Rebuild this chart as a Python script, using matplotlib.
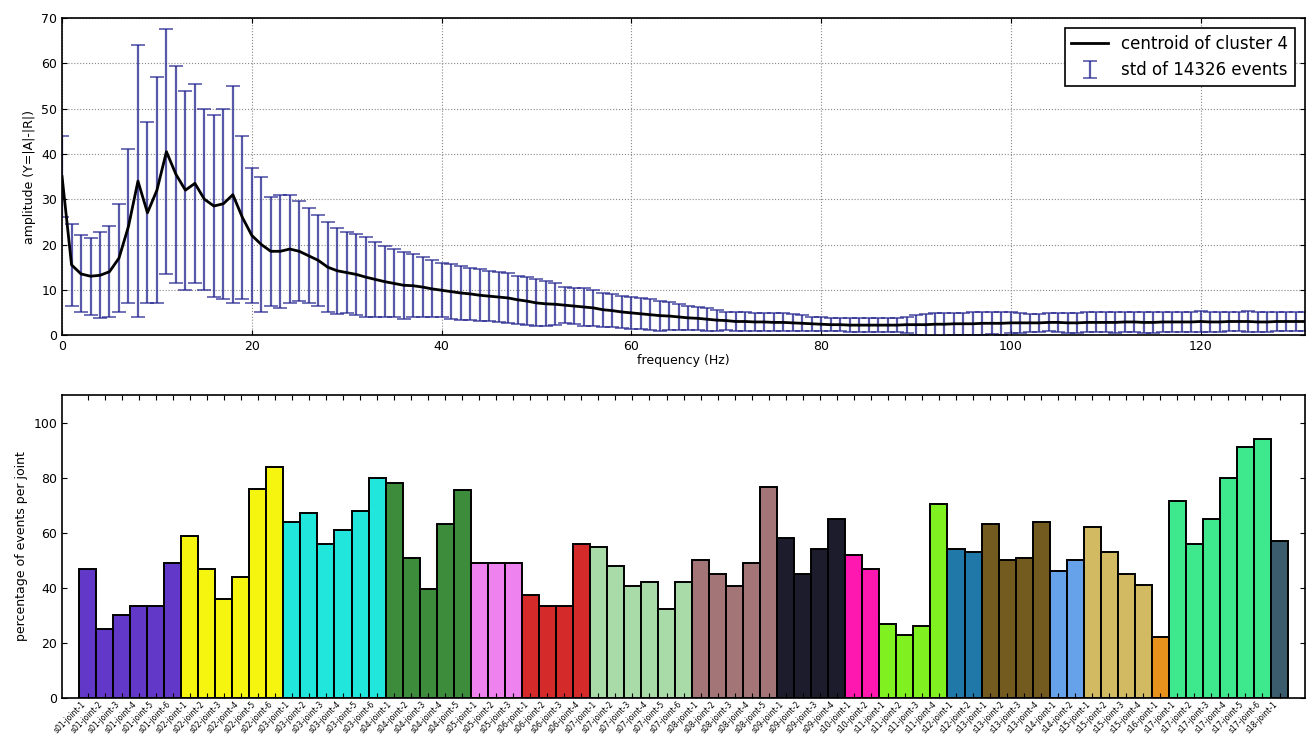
import matplotlib
matplotlib.use("Agg")
import matplotlib.pyplot as plt
import numpy as np

# ---- top panel data: centroid spectrum and std, one value per Hz ----
freq = np.arange(0, 132)
centroid = [
    35, 15.5, 13.5, 13, 13.2, 14, 17, 24, 34, 27,
    32, 40.5, 35.5, 32, 33.5, 30, 28.5, 29, 31, 26,
    22, 20, 18.5, 18.5, 19, 18.5, 17.5, 16.5, 15, 14.2,
    13.8, 13.4, 12.8, 12.3, 11.8, 11.4, 11, 10.9, 10.6, 10.2,
    9.9, 9.6, 9.3, 9.1, 8.8, 8.6, 8.4, 8.2, 7.8, 7.5,
    7.1, 6.9, 6.8, 6.6, 6.4, 6.2, 6.0, 5.6, 5.4, 5.1,
    4.9, 4.7, 4.5, 4.3, 4.2, 4.0, 3.8, 3.7, 3.5, 3.3,
    3.2, 3.0, 3.0, 2.9, 2.9, 2.8, 2.8, 2.7, 2.6, 2.5,
    2.4, 2.3, 2.3, 2.2, 2.2, 2.2, 2.2, 2.2, 2.2, 2.3,
    2.3, 2.3, 2.4, 2.4, 2.5, 2.5, 2.5, 2.6, 2.6, 2.6,
    2.7, 2.7, 2.7, 2.7, 2.8, 2.8, 2.7, 2.7, 2.8, 2.8,
    2.8, 2.8, 2.9, 2.9, 2.8, 2.8, 2.9, 2.9, 2.9, 2.9,
    3.0, 2.9, 2.9, 3.0, 3.0, 3.0, 2.9, 2.9, 3.0, 3.0, 3.0, 3.0,
]
spread = [
    9, 9, 8.5, 8.5, 9.5, 10, 12, 17, 30, 20,
    25, 27, 24, 22, 22, 20, 20, 21, 24, 18,
    15, 15, 12, 12.5, 12, 11, 10.5, 10, 10, 9.5,
    9, 9, 8.8, 8.2, 7.8, 7.5, 7.4, 7.0, 6.6, 6.3,
    6.0, 6.0, 6.0, 5.8, 5.8, 5.5, 5.5, 5.5, 5.3, 5.3,
    5.2, 5.0, 4.6, 4.0, 4.0, 4.1, 4.0, 3.8, 3.6, 3.5,
    3.5, 3.4, 3.4, 3.3, 3.0, 2.8, 2.6, 2.5, 2.5, 2.3,
    2.0, 2.0, 2.0, 2.0, 2.0, 2.0, 2.0, 1.9, 1.8, 1.6,
    1.5, 1.5, 1.5, 1.5, 1.5, 1.5, 1.5, 1.5, 1.6, 1.8,
    2.2, 2.4, 2.5, 2.5, 2.4, 2.4, 2.5, 2.5, 2.4, 2.5,
    2.3, 2.2, 2.0, 2.0, 2.0, 2.1, 2.2, 2.2, 2.2, 2.2,
    2.2, 2.3, 2.2, 2.2, 2.3, 2.3, 2.2, 2.2, 2.3, 2.3,
    2.3, 2.3, 2.3, 2.2, 2.2, 2.3, 2.3, 2.3, 2.2, 2.2, 2.2, 2.2,
]

# ---- bottom panel data: percentage of events per joint, grouped ----
group_sizes = [6, 6, 6, 5, 3, 4, 6, 5, 4, 2, 4, 2, 4, 2, 4, 1, 6, 1]
percent = [
    47, 25, 30, 33.5, 33.5, 49,
    59, 47, 36, 44, 76, 84,
    64, 67, 56, 61, 68, 80,
    78, 51, 39.5, 63, 75.5,
    49, 49, 49,
    37.5, 33.5, 33.5, 56,
    55, 48, 40.5, 42, 32.5, 42,
    50, 45, 40.5, 49, 76.5,
    58, 45, 54, 65,
    52, 47,
    27, 23, 26, 70.5,
    54, 53,
    63, 50, 51, 64,
    46, 50,
    62, 53, 45, 41,
    22,
    71.5, 56, 65, 80, 91, 94,
    57,
]
joint_labels = [f"s{g + 1:02d}-joint-{k + 1}"
                for g, n in enumerate(group_sizes) for k in range(n)]

group_colors = ['#6238c8', '#f5f510', '#20e6dc', '#3c8c3c', '#ee82ee',
                '#d42a2a', '#a8dba8', '#a47576', '#1c1c2c', '#ff18b0',
                '#80f020', '#1f78a8', '#735a1e', '#65a2ea', '#d2ba62',
                '#e8921e', '#3ee88c', '#3a5c6c']
bar_colors = [c for c, n in zip(group_colors, group_sizes) for _ in range(n)]

fig = plt.figure(figsize=(13.12, 7.53), dpi=100)
ax1 = fig.add_axes([0.0473, 0.555, 0.9474, 0.421])
ax2 = fig.add_axes([0.0473, 0.073, 0.9474, 0.4024])

# top: errorbars + centroid
ax1.errorbar(freq, centroid, yerr=spread, fmt='none', ecolor='#22228e',
             alpha=0.75, elinewidth=1.6, capsize=5, capthick=1.2,
             label='std of 14326 events', zorder=2)
ax1.plot(freq, centroid, color='black', lw=2, label='centroid of cluster 4',
         zorder=3)
ax1.set_xlim(0, 131)
ax1.set_ylim(0, 70)
ax1.set_xticks(np.arange(0, 121, 20))
ax1.set_yticks(np.arange(0, 71, 10))
ax1.grid(True, linestyle=':', color='#888888', lw=0.8)
ax1.tick_params(direction='in', top=True, right=True, labelsize=9)
ax1.set_xlabel('frequency (Hz)', fontsize=9, labelpad=1)
ax1.set_ylabel('amplitude (Y=|A|-|R|)', fontsize=9)
h, l = ax1.get_legend_handles_labels()
order = [l.index('centroid of cluster 4'), l.index('std of 14326 events')]
leg = ax1.legend([h[i] for i in order], [l[i] for i in order],
                 loc='upper right', fontsize=12,
                 fancybox=False, edgecolor='black', framealpha=1,
                 borderaxespad=0.6, handlelength=2.2)
leg.get_frame().set_linewidth(1.2)

# bottom: bars
x = np.arange(len(percent))
ax2.bar(x, percent, width=1.0, color=bar_colors, edgecolor='black', lw=1.4)
ax2.set_xlim(-1.5, len(percent) + 0.5)
ax2.set_ylim(0, 110)
ax2.set_yticks(np.arange(0, 101, 20))
ax2.set_xticks(x)
ax2.set_xticklabels(joint_labels, rotation=45, ha='right', fontsize=5.5)
ax2.tick_params(axis='x', pad=1)
ax2.tick_params(direction='in', top=True, right=True)
ax2.tick_params(axis='y', labelsize=9)
ax2.set_ylabel('percentage of events per joint', fontsize=9)

for ax in (ax1, ax2):
    for s in ax.spines.values():
        s.set_linewidth(1.2)

fig.savefig('out.png', dpi=100)
